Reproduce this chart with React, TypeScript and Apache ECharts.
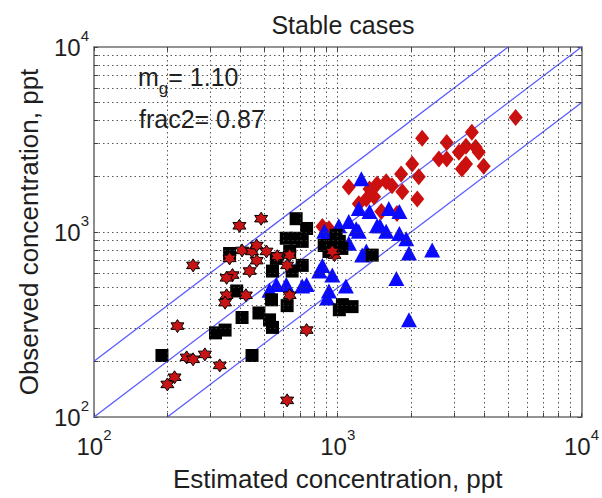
import React, { useEffect, useRef } from "react";
import * as echarts from "echarts";

const FONT = "Liberation Sans, Arial, sans-serif";

const xTickLabels = [100, 1000, 10000];
const minorTickValues = [
  100, 200, 300, 400, 500, 600, 700, 800, 900,
  1000, 2000, 3000, 4000, 5000, 6000, 7000, 8000, 9000, 10000,
];
const gridValues = [200, 300, 400, 500, 600, 700, 800, 900, 1000, 2000, 3000, 4000, 5000, 6000, 7000, 8000, 9000];

// [estimated, observed]
const redDiamonds: number[][] = [
  [5370, 4160], [2220, 3210], [3550, 3460], [2800, 3050], [3360, 2910], [3680, 2870],
  [3790, 2700], [3140, 2700], [2600, 2480], [2800, 2480], [3360, 2330], [3970, 2270],
  [3230, 2190], [2020, 2330], [1820, 2060], [2150, 1990], [1110, 1750], [1450, 1820],
  [1580, 1870], [1350, 1710], [1670, 1780], [1840, 1650], [2120, 1510], [1410, 1550],
  [1310, 1510], [1510, 1290], [865, 1070], [920, 1040], [1220, 1420], [1750, 1260],
];

const blueTriangles: number[][] = [
  [1250, 1940], [1790, 1290], [1220, 1340], [1350, 1290], [1110, 1140], [1010, 1080],
  [1580, 1010], [1790, 980], [1910, 920], [1450, 1080], [1220, 1010], [2440, 800],
  [1960, 770], [1260, 750], [880, 1010], [865, 660], [1740, 560], [1080, 510],
  [905, 440], [1960, 335], [1190, 1040], [1310, 790], [900, 960], [840, 615],
  [1620, 1340], [1490, 1080], [950, 585], [615, 520], [745, 520], [920, 480],
  [560, 520], [715, 510], [525, 485], [1110, 870],
];

const blackSquares: number[][] = [
  [675, 1180], [745, 1045], [360, 765], [560, 720], [635, 785], [540, 615],
  [650, 615], [715, 890], [615, 925], [920, 845], [1040, 815], [985, 960],
  [675, 925], [1015, 890], [1385, 750], [715, 660], [385, 480], [535, 430],
  [620, 400], [405, 345], [475, 365], [525, 335], [540, 305], [315, 285],
  [345, 295], [190, 215], [445, 215], [1015, 380], [1045, 405], [1145, 395],
  [880, 845], [920, 785],
];

const redStars: number[][] = [
  [395, 1080], [485, 1180], [255, 660], [360, 720], [405, 795], [445, 785],
  [465, 845], [510, 785], [465, 700], [565, 740], [635, 750], [620, 660],
  [435, 615], [370, 585], [350, 565], [970, 750], [350, 455], [420, 455],
  [635, 455], [345, 415], [220, 310], [745, 295], [285, 218], [240, 210],
  [255, 205], [328, 190], [214, 164], [200, 150], [620, 123], [950, 785],
];

const oneToOne = [[100, 100], [10000, 10000]];
const factorTwoUpper = [[100, 200], [5000, 10000]];
const factorTwoLower = [[200, 100], [10000, 5000]];

const statsLines = ["{base|m}{sub|g}{base|= 1.10}", "frac2= 0.87"];

const HEXAGRAM =
  "path://M100 0 L128.9 50 L186.6 50 L157.7 100 L186.6 150 L128.9 150 L100 200 L71.1 150 L13.4 150 L42.3 100 L13.4 50 L71.1 50 Z";

const TEXT = "#1e1e1e";

export default function App() {
  const ref = useRef<HTMLDivElement>(null);

  useEffect(() => {
    if (!ref.current) return;
    const chart = echarts.init(ref.current, undefined, { renderer: "svg" });

    const axisLine = { show: true, lineStyle: { color: "#707070", width: 1.6 } };
    const tick = {
      show: true,
      inside: true,
      length: 4,
      customValues: minorTickValues,
      lineStyle: { color: "#444", width: 1 },
    };
    const labelRich = {
      base: { fontSize: 24, fontFamily: FONT, color: TEXT, lineHeight: 38 },
      sup: { fontSize: 15, fontFamily: FONT, color: TEXT, verticalAlign: "top" as const, lineHeight: 15 },
    };
    const fmt = (v: number) => `{base|10}{sup|${Math.round(Math.log10(v))}}`;

    const baseAxis = {
      type: "log" as const,
      logBase: 10,
      min: 100,
      max: 10000,
      interval: 1,
      axisLine,
      axisTick: tick,
      splitLine: { show: false },
      minorTick: { show: false },
    };

    const gridLineStyle = { color: "#3a3a3a", width: 1, type: [1.5, 3] as any, opacity: 0.85 };
    const refLine = { color: "#5a5aff", width: 1.3 };

    chart.setOption({
      animation: false,
      backgroundColor: "#ffffff",
      title: {
        text: "Stable cases",
        left: 338,
        textAlign: "center",
        top: 6,
        textStyle: { fontSize: 25, lineHeight: 28, fontWeight: "normal", fontFamily: FONT, color: TEXT },
      },
      grid: { left: 94, right: 19, top: 47, bottom: 78 },
      xAxis: [
        {
          ...baseAxis,
          position: "bottom",
          axisLabel: {
            show: true,
            margin: 10,
            formatter: fmt,
            rich: labelRich,
            customValues: xTickLabels,
          },
          name: "Estimated concentration, ppt",
          nameLocation: "middle",
          nameGap: 48,
          nameTextStyle: { fontSize: 26, lineHeight: 28, fontFamily: FONT, color: TEXT },
        },
        { ...baseAxis, position: "top", axisLabel: { show: false } },
      ],
      yAxis: [
        {
          ...baseAxis,
          position: "left",
          axisLabel: {
            show: true,
            margin: 5,
            formatter: fmt,
            rich: labelRich,
            customValues: xTickLabels,
          },
          name: "Observed concentration, ppt",
          nameLocation: "middle",
          nameGap: 51,
          nameTextStyle: { fontSize: 26, lineHeight: 28, fontFamily: FONT, color: TEXT },
        },
        { ...baseAxis, position: "right", axisLabel: { show: false } },
      ],
      graphic: [
        {
          type: "text",
          left: 138,
          top: 64,
          style: {
            text: statsLines[0],
            fontFamily: FONT,
            fill: TEXT,
            rich: {
              base: { fontSize: 25, fontFamily: FONT, fill: TEXT, lineHeight: 40 },
              sub: { fontSize: 17, fontFamily: FONT, fill: TEXT, verticalAlign: "bottom", lineHeight: 15 },
            },
          },
        },
        {
          type: "text",
          left: 139,
          top: 104,
          style: { text: statsLines[1], fontSize: 25, lineHeight: 30, fontFamily: FONT, fill: TEXT },
        },
      ],
      series: [
        {
          type: "line",
          data: oneToOne,
          symbol: "none",
          lineStyle: refLine,
          z: 1,
          silent: true,
          markLine: {
            silent: true,
            symbol: "none",
            label: { show: false },
            lineStyle: gridLineStyle,
            data: [
              ...gridValues.map((v) => ({ xAxis: v })),
              ...gridValues.map((v) => ({ yAxis: v })),
            ],
          },
        },
        { type: "line", data: factorTwoUpper, symbol: "none", lineStyle: refLine, z: 1, silent: true },
        { type: "line", data: factorTwoLower, symbol: "none", lineStyle: refLine, z: 1, silent: true },
        {
          type: "scatter",
          data: redDiamonds,
          symbol: "diamond",
          symbolSize: [14, 17],
          itemStyle: { color: "#cc1010", opacity: 1 },
          z: 2,
        },
        {
          type: "scatter",
          data: blueTriangles,
          symbol: "triangle",
          symbolSize: [16, 15],
          itemStyle: { color: "#0a0aff", opacity: 1 },
          z: 3,
        },
        {
          type: "scatter",
          data: blackSquares,
          symbol: "rect",
          symbolSize: 13,
          itemStyle: { color: "#000000", opacity: 1 },
          z: 4,
        },
        {
          type: "scatter",
          data: redStars,
          symbol: HEXAGRAM,
          symbolSize: 13,
          itemStyle: { color: "#c81414", borderColor: "#000000", borderWidth: 1, opacity: 1 },
          z: 5,
        },
      ],
    });

    return () => chart.dispose();
  }, []);

  return <div ref={ref} style={{ width: 602, height: 498, position: "absolute", left: 0, top: 0 }} />;
}
